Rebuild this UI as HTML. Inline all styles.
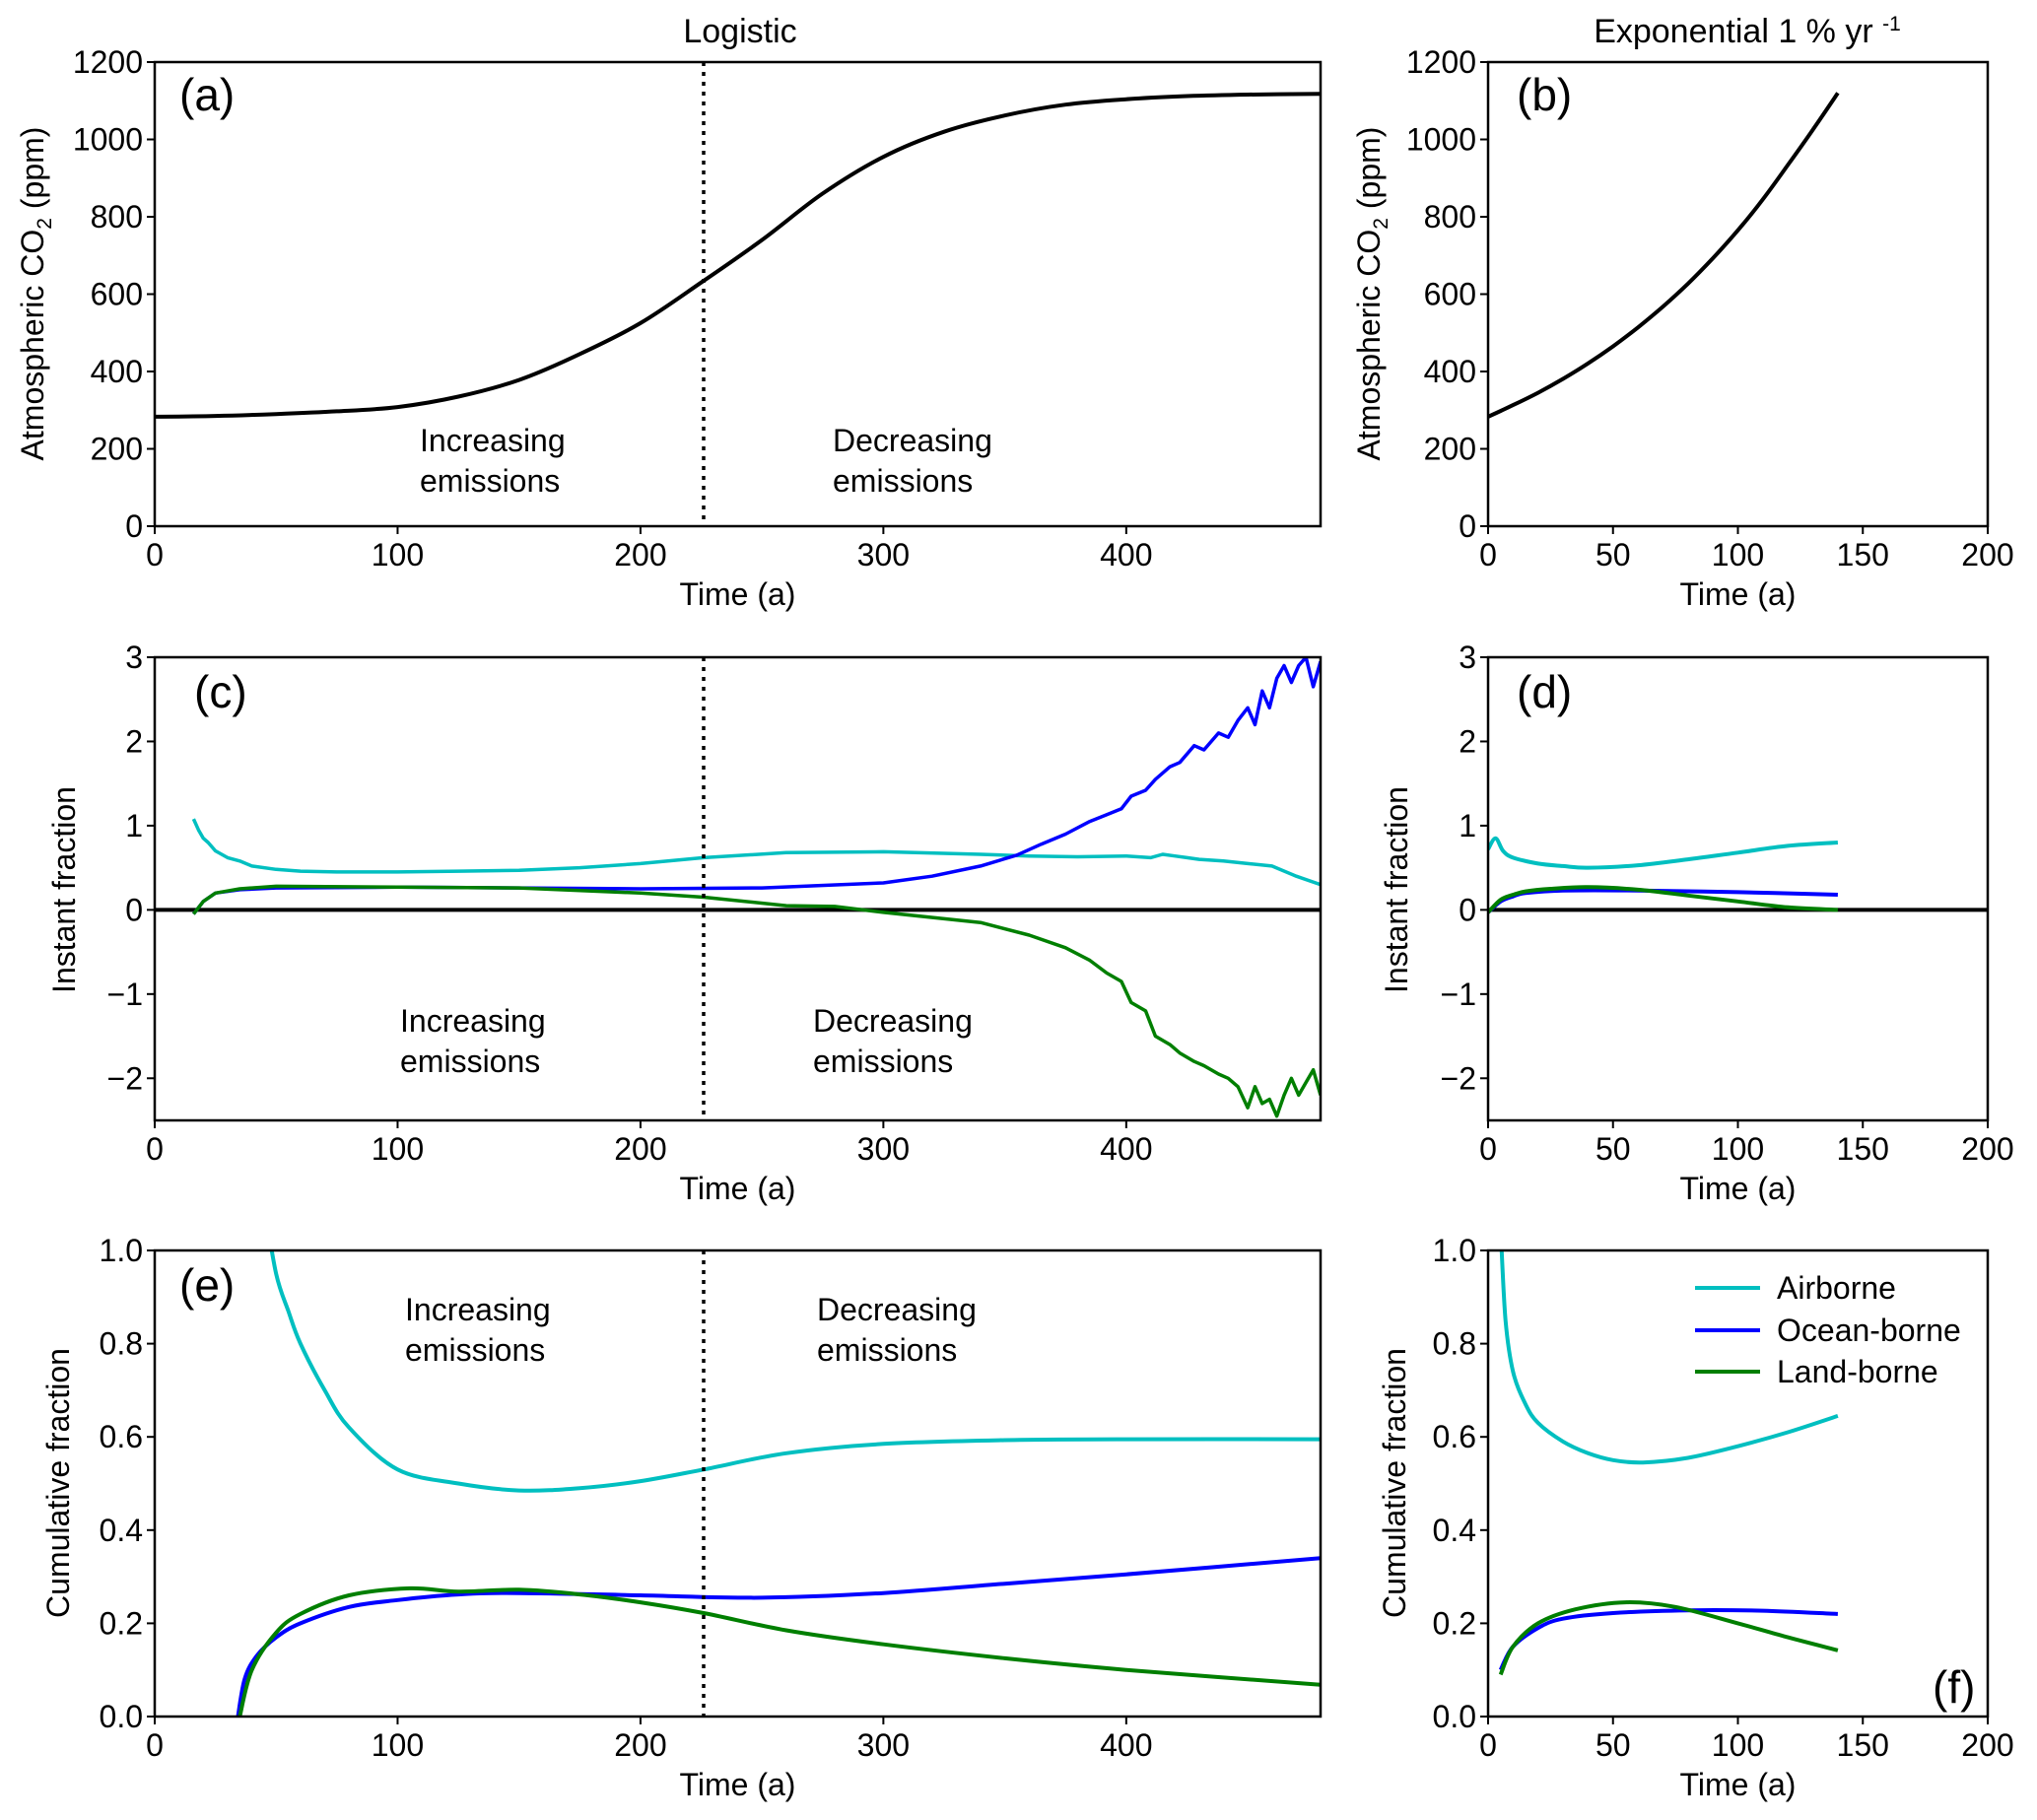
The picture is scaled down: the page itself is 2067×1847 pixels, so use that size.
<!DOCTYPE html>
<html><head><meta charset="utf-8">
<style>
html,body{margin:0;padding:0;background:#fff;}
svg{display:block;font-family:"Liberation Sans",Arial,sans-serif;}
</style></head>
<body>
<svg id="fig" width="2067" height="1847" viewBox="0 0 2067 1847" xmlns="http://www.w3.org/2000/svg"></svg>
<script>
// ---------- DATA ----------
const aT = [0,25,50,75,100,125,150,175,200,225,250,275,300,325,350,375,400,425,450,480];
const aCO2 = [283,285,290,297,308,335,378,445,525,630,740,860,955,1020,1062,1090,1104,1112,1116,1118];
const bT = [0,10,20,30,40,50,60,70,80,90,100,110,120,130,140];
const bCO2 = [283,313,345,381,421,465,514,568,627,693,765,845,934,1025,1120];
const cAirT = [16,18,20,22,25,30,35,40,50,60,75,100,125,150,175,200,226,260,300,340,360,380,400,410,415,420,425,430,440,450,460,470,480];
const cAir  = [1.08,0.95,0.85,0.8,0.7,0.62,0.58,0.52,0.48,0.46,0.45,0.45,0.46,0.47,0.5,0.55,0.62,0.68,0.69,0.66,0.64,0.63,0.64,0.62,0.66,0.64,0.62,0.6,0.58,0.55,0.52,0.4,0.3];
const cOcnT = [16,20,25,35,50,100,150,200,250,300,320,340,355,365,375,385,392,398,402,408,412,418,422,428,432,438,442,446,450,453,456,459,462,465,468,471,474,477,480];
const cOcn  = [-0.05,0.1,0.2,0.24,0.26,0.27,0.26,0.25,0.26,0.32,0.4,0.52,0.65,0.78,0.9,1.05,1.13,1.2,1.35,1.42,1.55,1.7,1.75,1.95,1.9,2.1,2.05,2.25,2.4,2.2,2.6,2.4,2.75,2.9,2.7,2.9,3.0,2.65,2.95];
const cLndT = [16,20,25,35,50,100,150,200,226,260,280,300,340,360,375,385,392,398,402,408,412,418,422,428,432,438,442,446,450,453,456,459,462,465,468,471,474,477,480];
const cLnd  = [-0.05,0.1,0.2,0.25,0.28,0.27,0.26,0.2,0.15,0.05,0.04,-0.03,-0.15,-0.3,-0.45,-0.6,-0.75,-0.85,-1.1,-1.2,-1.5,-1.6,-1.7,-1.8,-1.85,-1.95,-2.0,-2.1,-2.35,-2.1,-2.3,-2.25,-2.45,-2.2,-2.0,-2.2,-2.05,-1.9,-2.2];
const dAirT = [0,3,6,10,20,30,40,60,80,100,120,140];
const dAir  = [0.72,0.85,0.7,0.62,0.55,0.52,0.5,0.53,0.6,0.68,0.76,0.8];
const dOcnT = [0,5,10,15,30,60,100,140];
const dOcn  = [-0.03,0.1,0.16,0.2,0.23,0.23,0.21,0.18];
const dLndT = [0,5,10,15,25,40,60,80,100,120,140];
const dLnd  = [-0.03,0.12,0.18,0.22,0.25,0.27,0.24,0.17,0.1,0.03,0.0];
const eAirT = [45,50,55,60,70,80,100,125,150,175,200,226,260,300,350,400,480];
const eAir  = [1.1,0.95,0.87,0.8,0.7,0.62,0.53,0.5,0.485,0.49,0.505,0.53,0.565,0.585,0.593,0.595,0.595];
const eOcnT = [34,37,42,50,60,80,100,125,150,200,250,300,350,400,480];
const eOcn  = [-0.01,0.08,0.13,0.17,0.2,0.235,0.25,0.262,0.265,0.26,0.255,0.265,0.285,0.305,0.34];
const eLndT = [35,40,50,60,80,105,125,150,175,200,226,260,300,350,400,480];
const eLnd  = [0.0,0.1,0.18,0.22,0.26,0.275,0.268,0.272,0.262,0.245,0.222,0.185,0.155,0.125,0.1,0.068];
const fAirT = [5,7,10,15,20,30,40,50,62,80,100,120,140];
const fAir  = [1.05,0.85,0.74,0.67,0.63,0.59,0.565,0.55,0.545,0.555,0.58,0.61,0.645];
const fOcnT = [5,10,20,30,50,80,110,140];
const fOcn  = [0.1,0.15,0.19,0.21,0.222,0.228,0.227,0.22];
const fLndT = [5,10,20,35,55,75,100,120,140];
const fLnd  = [0.09,0.15,0.2,0.23,0.245,0.235,0.2,0.17,0.142];
const xTicksL = [0,100,200,300,400];
const xTicksR = [0,50,100,150,200];
const yTicksCO2 = [0,200,400,600,800,1000,1200];
const yTicksInst = [-2,-1,0,1,2,3];
const yTicksCum = [0,0.2,0.4,0.6,0.8,1.0];
const splitTime = 226;

// ---------- DRAWING ----------
const NS='http://www.w3.org/2000/svg';
const svg=document.getElementById('fig');
function mk(tag,attrs,parent){const e=document.createElementNS(NS,tag);for(const k in attrs)e.setAttribute(k,attrs[k]);(parent||svg).appendChild(e);return e;}
const COL={air:'#00bfc0',ocn:'#0000ff',lnd:'#007f00'};
const TF=32;
let clipId=0;
function panel(name,box,xd,yd,xt,yt,fmt){
  const g=mk('g',{});
  
  
  const sx=v=>box.x0+(v-xd[0])/(xd[1]-xd[0])*(box.x1-box.x0);
  const sy=v=>box.y1-(v-yd[0])/(yd[1]-yd[0])*(box.y1-box.y0);
  const id='clip'+(clipId++);
  const cp=mk('clipPath',{id:id},g);
  mk('rect',{x:box.x0,y:box.y0,width:box.x1-box.x0,height:box.y1-box.y0},cp);
  const plot=mk('g',{'clip-path':'url(#'+id+')'},g);
  xt.forEach(v=>{
    const t=mk('line',{x1:sx(v),x2:sx(v),y1:box.y1,y2:box.y1+8,stroke:'#000','stroke-width':2},g);
    
    
    const l=mk('text',{x:sx(v),y:box.y1+40,'font-size':TF,'text-anchor':'middle'},g);
    l.textContent=v;
    
    
  });
  yt.forEach(v=>{
    const t=mk('line',{x1:box.x0-8,x2:box.x0,y1:sy(v),y2:sy(v),stroke:'#000','stroke-width':2},g);
    
    
    const l=mk('text',{x:box.x0-12,y:sy(v)+11,'font-size':TF,'text-anchor':'end'},g);
    l.textContent=fmt(v);
    
    
  });
  return {g,plot,sx,sy,box};
}
function line(p,xs,ys,color,name,w,smooth){
  const P=xs.map((x,i)=>[p.sx(x),p.sy(ys[i])]);
  let d='M'+P[0][0].toFixed(1)+','+P[0][1].toFixed(1);
  for(let i=0;i<P.length-1;i++){
    if(smooth){
      const p0=P[Math.max(0,i-1)],p1=P[i],p2=P[i+1],p3=P[Math.min(P.length-1,i+2)];
      const c1=[p1[0]+(p2[0]-p0[0])/6,p1[1]+(p2[1]-p0[1])/6];
      const c2=[p2[0]-(p3[0]-p1[0])/6,p2[1]-(p3[1]-p1[1])/6];
      d+=' C'+c1[0].toFixed(1)+','+c1[1].toFixed(1)+' '+c2[0].toFixed(1)+','+c2[1].toFixed(1)+' '+p2[0].toFixed(1)+','+p2[1].toFixed(1);
    } else d+=' L'+P[i+1][0].toFixed(1)+','+P[i+1][1].toFixed(1);
  }
  const e=mk('path',{d:d,fill:'none',stroke:color,'stroke-width':w||4,'stroke-linejoin':'round'},p.plot);
  
  
}
function frame(p){
  const b=p.box;
  const r=mk('rect',{x:b.x0,y:b.y0,width:b.x1-b.x0,height:b.y1-b.y0,fill:'none',stroke:'#000','stroke-width':2.5},p.g);
  
  
}
function text(x,y,s,size,name,anchor){
  const t=mk('text',{x:x,y:y,'font-size':size,'text-anchor':anchor||'middle'});
  t.textContent=s;
  
  
  return t;
}
function vsplit(p){
  const e=mk('line',{x1:p.sx(splitTime),x2:p.sx(splitTime),y1:p.box.y0,y2:p.box.y1,stroke:'#000','stroke-width':3.5,'stroke-dasharray':'4,6'},p.plot);
  
  
}
function ylab(x,y,s,sub){
  const t=mk('text',{x:x,y:y,'font-size':TF,'text-anchor':'middle',transform:'rotate(-90 '+x+' '+y+')'});
  
  
  if(sub){
    t.appendChild(document.createTextNode('Atmospheric CO'));
    const s2=mk('tspan',{'font-size':21,dy:8},t);s2.textContent='2';
    const s3=mk('tspan',{dy:-8},t);s3.textContent=' (ppm)';
  } else t.textContent=s;
}
const L={x0:157,x1:1340}, R={x0:1510,x1:2017};
const rowA={y0:63,y1:534}, rowC={y0:667,y1:1137}, rowE={y0:1269,y1:1742};
const fInt=v=>String(v).replace('-','\u2212'), fOne=v=>v.toFixed(1);

let pa=panel('panel-a',{...L,...rowA},[0,480],[0,1200],xTicksL,yTicksCO2,fInt);
line(pa,aT,aCO2,'#000','co2-logistic-line',4,true);vsplit(pa);frame(pa);
let pb=panel('panel-b',{...R,...rowA},[0,200],[0,1200],xTicksR,yTicksCO2,fInt);
line(pb,bT,bCO2,'#000','co2-exponential-line',4,true);frame(pb);
let pc=panel('panel-c',{...L,...rowC},[0,480],[-2.5,3],xTicksL,yTicksInst,fInt);
mk('line',{x1:L.x0,x2:L.x1,y1:pc.sy(0),y2:pc.sy(0),stroke:'#000','stroke-width':4},pc.plot);
line(pc,cAirT,cAir,COL.air,'instant-airborne-line',3.5);
line(pc,cOcnT,cOcn,COL.ocn,'instant-ocean-line',3.5);
line(pc,cLndT,cLnd,COL.lnd,'instant-land-line',3.5);
vsplit(pc);frame(pc);
let pd=panel('panel-d',{...R,...rowC},[0,200],[-2.5,3],xTicksR,yTicksInst,fInt);
mk('line',{x1:R.x0,x2:R.x1,y1:pd.sy(0),y2:pd.sy(0),stroke:'#000','stroke-width':4},pd.plot);
line(pd,dAirT,dAir,COL.air,'instant-airborne-line',4,true);
line(pd,dOcnT,dOcn,COL.ocn,'instant-ocean-line',4,true);
line(pd,dLndT,dLnd,COL.lnd,'instant-land-line',4,true);
frame(pd);
let pe=panel('panel-e',{...L,...rowE},[0,480],[0,1],xTicksL,yTicksCum,fOne);
line(pe,eAirT,eAir,COL.air,'cumulative-airborne-line',4,true);
line(pe,eOcnT,eOcn,COL.ocn,'cumulative-ocean-line',4,true);
line(pe,eLndT,eLnd,COL.lnd,'cumulative-land-line',4,true);
vsplit(pe);frame(pe);
let pf=panel('panel-f',{...R,...rowE},[0,200],[0,1],xTicksR,yTicksCum,fOne);
line(pf,fAirT,fAir,COL.air,'cumulative-airborne-line',4,true);
line(pf,fOcnT,fOcn,COL.ocn,'cumulative-ocean-line',4,true);
line(pf,fLndT,fLnd,COL.lnd,'cumulative-land-line',4,true);
frame(pf);

text(751,43,'Logistic',34,'title-logistic');
const te=text(1773,43,'Exponential 1 % yr ',34,'title-exponential');
const sup=mk('tspan',{'font-size':21,dy:-12},te);sup.textContent='-1';
[[614,L],[614,R],[1217,L],[1217,R],[1822,L],[1822,R]].forEach(([y,b])=>text((b.x0+b.x1)/2,y,'Time (a)',TF,'x-axis-title'));
ylab(44,298,'',true);ylab(1400,298,'',true);
ylab(76,903,'Instant fraction');ylab(1428,903,'Instant fraction');
ylab(70,1505,'Cumulative fraction');ylab(1426,1505,'Cumulative fraction');
text(182,112,'(a)',46,'panel-label-a','start');
text(1539,112,'(b)',46,'panel-label-b','start');
text(197,718,'(c)',46,'panel-label-c','start');
text(1539,718,'(d)',46,'panel-label-d','start');
text(182,1320,'(e)',46,'panel-label-e','start');
text(1961,1728,'(f)',46,'panel-label-f','start');
[[426,458,845],[406,1047,825],[411,1340,829]].forEach(([xi,y,xd])=>{
  text(xi,y,'Increasing',32,'annotation-increasing','start');
  text(xi,y+41,'emissions',32,'annotation-increasing','start');
  text(xd,y,'Decreasing',32,'annotation-decreasing','start');
  text(xd,y+41,'emissions',32,'annotation-decreasing','start');
});
[['Airborne',COL.air,1307],['Ocean-borne',COL.ocn,1350],['Land-borne',COL.lnd,1392]].forEach(([n,c,y])=>{
  const l=mk('line',{x1:1720,x2:1786,y1:y,y2:y,stroke:c,'stroke-width':4});
  
  
  text(1803,y+11,n,TF,'legend-entry','start');
});
</script>
</body></html>
